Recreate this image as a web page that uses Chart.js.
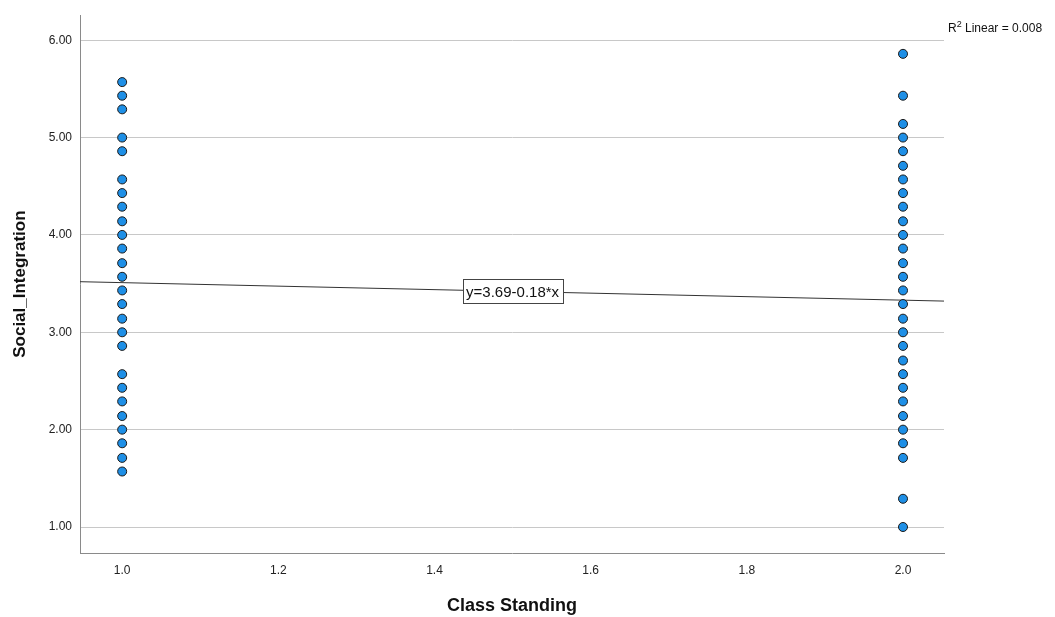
<!DOCTYPE html>
<html>
<head>
<meta charset="utf-8">
<script src="https://cdn.jsdelivr.net/npm/chart.js@4.4.1/dist/chart.umd.min.js"></script>
<style>
  body { margin: 0; background: #fff; }
  #wrap { width: 1055px; height: 617px; }
</style>
</head>
<body>
<div id="wrap"><canvas id="scatterChart" width="1055" height="617"></canvas></div>
<script>
// Social_Integration scores, one list per class standing
const standingOneScores = [5.57, 5.43, 5.29, 5.00, 4.86, 4.57, 4.43, 4.29, 4.14, 4.00, 3.86, 3.71, 3.57,
  3.43, 3.29, 3.14, 3.00, 2.86, 2.57, 2.43, 2.29, 2.14, 2.00, 1.86, 1.71, 1.57];
const standingTwoScores = [5.86, 5.43, 5.14, 5.00, 4.86, 4.71, 4.57, 4.43, 4.29, 4.14, 4.00, 3.86, 3.71,
  3.57, 3.43, 3.29, 3.14, 3.00, 2.86, 2.71, 2.57, 2.43, 2.29, 2.14, 2.00, 1.86, 1.71, 1.29, 1.00];
const standings = [1, 2];

// linear fit
const fitIntercept = 3.69;
const fitSlope = -0.18;
const rSquared = "0.008";
const fitLabelAt = 1.5;

const xMin = 0.946, xMax = 2.0525;
const yMin = 0.733, yMax = 6.257;

const FONT = "'Liberation Sans', Arial, sans-serif";

const points = [];
standingOneScores.forEach((v) => points.push({ x: standings[0], y: v }));
standingTwoScores.forEach((v) => points.push({ x: standings[1], y: v }));

const fitLine = [
  { x: xMin, y: fitIntercept + fitSlope * xMin },
  { x: xMax, y: fitIntercept + fitSlope * xMax },
];

const fitLabelPlugin = {
  id: "fitLabel",
  afterDatasetsDraw(chart) {
    const { ctx, scales: { x, y } } = chart;
    const px = x.getPixelForValue(fitLabelAt);
    const py = y.getPixelForValue(fitIntercept + fitSlope * fitLabelAt);
    const text = "y=" + fitIntercept.toFixed(2) + "-" + Math.abs(fitSlope).toFixed(2) + "*x";
    ctx.save();
    ctx.font = "15px " + FONT;
    const w = Math.round(ctx.measureText(text).width + 7);
    const h = 24;
    const bx = Math.round(px - w / 2) + 0.5;
    const by = Math.round(py - h / 2) + 0.5;
    ctx.fillStyle = "#fff";
    ctx.fillRect(bx, by, w, h);
    ctx.strokeStyle = "#444";
    ctx.lineWidth = 1;
    ctx.strokeRect(bx, by, w, h);
    ctx.fillStyle = "#111";
    ctx.textAlign = "center";
    ctx.textBaseline = "middle";
    ctx.fillText(text, px, py + 1);

    // R squared note, top right
    const rx = 948, ry = 32;
    ctx.textAlign = "left";
    ctx.textBaseline = "alphabetic";
    ctx.font = "12px " + FONT;
    ctx.fillText("R", rx, ry);
    const rw = ctx.measureText("R").width;
    ctx.font = "9px " + FONT;
    ctx.fillText("2", rx + rw, ry - 5);
    const sw = ctx.measureText("2").width;
    ctx.font = "12px " + FONT;
    ctx.fillText(" Linear = " + rSquared, rx + rw + sw, ry);
    ctx.restore();
  },
};

new Chart(document.getElementById("scatterChart"), {
  type: "scatter",
  data: {
    datasets: [
      {
        type: "line",
        data: fitLine,
        borderColor: "#333",
        borderWidth: 1,
        pointRadius: 0,
        fill: false,
        order: 2,
      },
      {
        data: points,
        backgroundColor: "#1e8fe6",
        borderColor: "#1a1a1a",
        borderWidth: 1,
        pointRadius: 4.5,
        order: 1,
      },
    ],
  },
  options: {
    responsive: false,
    animation: false,
    layout: { padding: { left: 0, right: 111, top: 7, bottom: 0 } },
    plugins: {
      legend: { display: false },
      tooltip: { enabled: false },
    },
    scales: {
      x: {
        type: "linear",
        min: xMin,
        max: xMax,
        afterFit: (scale) => { scale.height = 64; },
        grid: { display: false, drawTicks: false },
        border: { display: true, color: "#8a8a8a", width: 1 },
        ticks: {
          stepSize: 0.2,
          includeBounds: false,
          padding: 10,
          color: "#222",
          font: { family: FONT, size: 12 },
          callback: (v) => v.toFixed(1),
        },
        title: {
          display: true,
          text: "Class Standing",
          color: "#111",
          font: { family: FONT, size: 18, weight: "bold" },
          padding: { top: 4, bottom: 0 },
        },
      },
      y: {
        type: "linear",
        min: yMin,
        max: yMax,
        afterFit: (scale) => { scale.width = 80; },
        grid: { color: "#c8c8c8", lineWidth: 1, drawTicks: false },
        border: { display: true, color: "#8a8a8a", width: 1 },
        ticks: {
          stepSize: 1,
          includeBounds: false,
          padding: 8,
          color: "#222",
          font: { family: FONT, size: 12 },
          callback: (v) => v.toFixed(2),
        },
        title: {
          display: true,
          text: "Social_Integration",
          color: "#111",
          font: { family: FONT, size: 17, weight: "bold" },
          padding: { top: 10, bottom: 0 },
        },
      },
    },
  },
  plugins: [fitLabelPlugin],
});
</script>
</body>
</html>
